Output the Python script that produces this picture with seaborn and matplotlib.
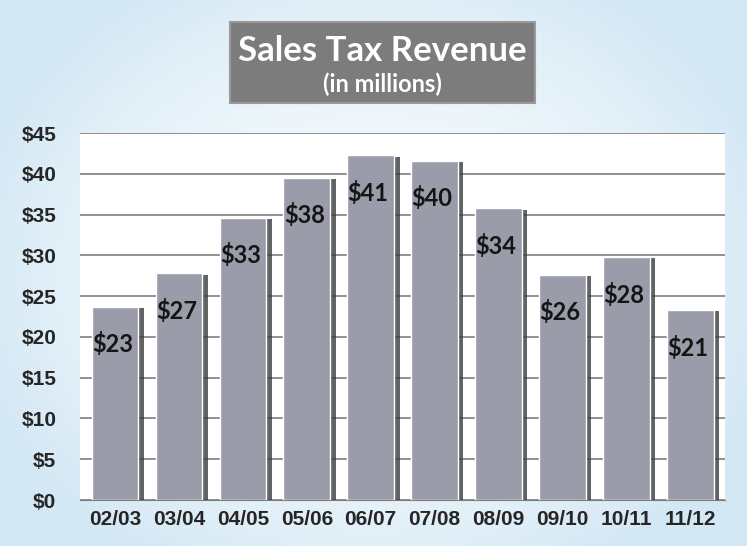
import numpy as np
import pandas as pd
import seaborn as sns
import matplotlib.pyplot as plt
from matplotlib.patches import Rectangle
import matplotlib.patheffects as pe

# fiscal years and bar heights (3D bars sit a bit above their labels)
years = ['02/03', '03/04', '04/05', '05/06', '06/07', '07/08', '08/09', '09/10', '10/11', '11/12']
heights = [23.7, 27.8, 34.6, 39.5, 42.3, 41.6, 35.8, 27.6, 29.8, 23.3]
labels = ['$23', '$27', '$33', '$38', '$41', '$40', '$34', '$26', '$28', '$21']
yticks = [0, 5, 10, 15, 20, 25, 30, 35, 40, 45]

sns.set_style('white')
plt.rcParams['font.family'] = ['Liberation Sans', 'DejaVu Sans']

df = pd.DataFrame({'year': years, 'revenue': heights})

fig = plt.figure(figsize=(7.47, 5.46), dpi=100)

# pale blue page behind everything
bg = fig.add_axes([0, 0, 1, 1], zorder=0)
yy, xx = np.mgrid[-1:1:200j, -1:1:200j]
r = np.clip(np.sqrt((xx * 0.9) ** 2 + (yy * 0.8) ** 2), 0, 1)
c0 = np.array([0.96, 0.98, 0.99])
c1 = np.array([0.83, 0.91, 0.96])
img = c0 + (c1 - c0) * r[..., None] ** 2
bg.imshow(img, aspect='auto', extent=[0, 1, 0, 1])
bg.axis('off')

ax = fig.add_axes([0.107, 0.0842, 0.864, 0.672], zorder=1)
ax.set_facecolor('white')
g = sns.barplot(data=df, x='year', y='revenue', color='#9a9da9', width=0.73,
                saturation=1, ax=ax, zorder=3)
for bar in ax.patches:
    bar.set_path_effects([pe.SimplePatchShadow(offset=(4, -1), shadow_rgbFace='#3c3c3c', alpha=0.8),
                          pe.Normal()])

for i, (h, lab) in enumerate(zip(heights, labels)):
    ax.text(i - 0.04, h - 4.6, lab, ha='center', va='center', fontsize=17,
            fontweight='bold', family=['Lato', 'DejaVu Sans'], color='#151515', zorder=5)

ax.set_ylim(0, 45)
ax.set_xlim(-0.55, 9.55)
ax.set_yticks(yticks)
ax.set_yticklabels(['$' + str(v) for v in yticks], fontsize=15, fontweight='bold')
ax.set_xticks(range(len(years)))
ax.set_xticklabels(years, fontsize=15, fontweight='bold')
ax.yaxis.grid(True, color='#7e7e7e', linewidth=1.2, zorder=0)
ax.set_axisbelow(True)
ax.tick_params(axis='y', length=0, pad=17)
ax.tick_params(axis='x', length=0, pad=7)
for s in ['top', 'right', 'left']:
    ax.spines[s].set_visible(False)
ax.spines['bottom'].set_color('#7e7e7e')
ax.set_xlabel('')
ax.set_ylabel('')

# title box
fig.patches.append(Rectangle((0.308, 0.811), 0.408, 0.149, transform=fig.transFigure,
                             facecolor='#7c7c7c', edgecolor='#9a9a9a', linewidth=1.5, zorder=2))
fig.text(0.512, 0.907, 'Sales Tax Revenue', ha='center', va='center', fontsize=25,
         fontweight='bold', color='white', family=['Lato', 'DejaVu Sans'], zorder=3)
fig.text(0.512, 0.845, '(in millions)', ha='center', va='center', fontsize=17,
         fontweight='bold', color='white', family=['Lato', 'DejaVu Sans'], zorder=3)

fig.savefig('out.png', dpi=100)
